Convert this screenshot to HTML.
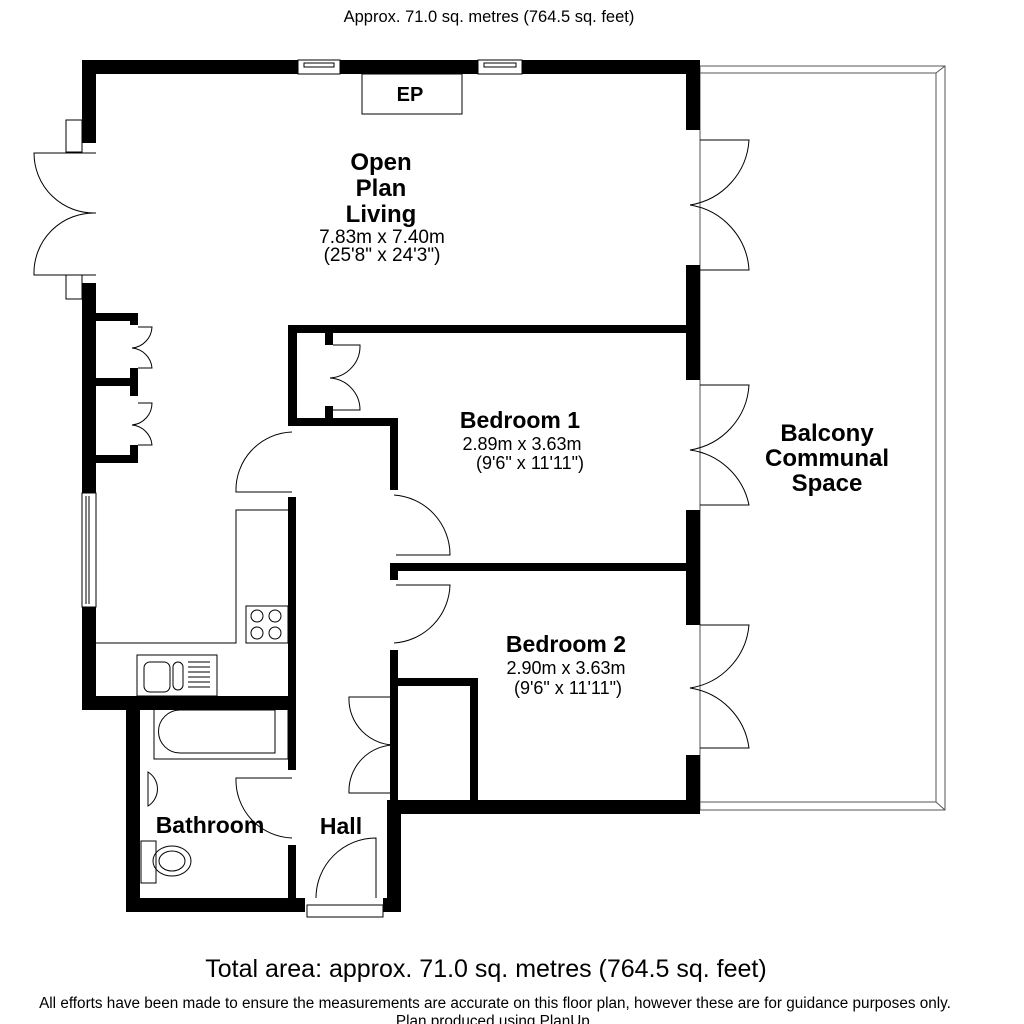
<!DOCTYPE html>
<html><head><meta charset="utf-8"><style>
html,body{margin:0;padding:0;background:#fff;}
svg{display:block;}
text{font-family:"Liberation Sans",Arial,sans-serif;fill:#000;}
</style></head><body>
<svg width="1024" height="1024" viewBox="0 0 1024 1024" xmlns="http://www.w3.org/2000/svg">
<rect width="1024" height="1024" fill="#fff"/>
<text x="489" y="22" font-size="16.5" text-anchor="middle">Approx. 71.0 sq. metres (764.5 sq. feet)</text>

<g fill="none" stroke="#555" stroke-width="1">
<rect x="700" y="66" width="245" height="744"/>
<polyline points="700,73 936,73 936,802 700,802"/>
<line x1="936" y1="73" x2="945" y2="66"/><line x1="936" y1="802" x2="945" y2="810"/>
</g>

<g fill="#000">
<rect x="82" y="60" width="216" height="14"/>
<rect x="340" y="60" width="138" height="14"/>
<rect x="522" y="60" width="178" height="14"/>
<rect x="82" y="60" width="14" height="83"/>
<rect x="82" y="283" width="14" height="210"/>
<rect x="82" y="607" width="14" height="103"/>
<rect x="82" y="696" width="208" height="14"/>
<rect x="126" y="696" width="14" height="216"/>
<rect x="126" y="898" width="179" height="14"/>
<rect x="383" y="898" width="18" height="14"/>
<rect x="387" y="800" width="14" height="112"/>
<rect x="387" y="800" width="313" height="14"/>
<rect x="686" y="60" width="14" height="70"/>
<rect x="686" y="265" width="14" height="115"/>
<rect x="686" y="510" width="14" height="115"/>
<rect x="686" y="755" width="14" height="59"/>
<rect x="288" y="325" width="412" height="8"/>
<rect x="288" y="325" width="9" height="100"/>
<rect x="288" y="418" width="110" height="8"/>
<rect x="390" y="418" width="8" height="72"/>
<rect x="325" y="333" width="8" height="12"/>
<rect x="325" y="406" width="8" height="12"/>
<rect x="390" y="563" width="310" height="8"/>
<rect x="390" y="563" width="8" height="17"/>
<rect x="390" y="650" width="8" height="150"/>
<rect x="398" y="678" width="80" height="8"/>
<rect x="470" y="678" width="8" height="122"/>
<rect x="288" y="497" width="8" height="273"/>
<rect x="288" y="845" width="8" height="53"/>
<rect x="96" y="313" width="42" height="8"/>
<rect x="130" y="313" width="8" height="12"/>
<rect x="96" y="378" width="42" height="8"/>
<rect x="130" y="368" width="8" height="28"/>
<rect x="96" y="455" width="42" height="8"/>
<rect x="130" y="445" width="8" height="18"/>
</g>

<g fill="none" stroke="#000" stroke-width="1">
<rect x="298" y="60" width="42" height="14"/><rect x="304" y="63" width="30" height="4"/>
<rect x="478" y="60" width="44" height="14"/><rect x="484" y="63" width="32" height="4"/>
<rect x="82" y="493" width="14" height="114"/><line x1="86" y1="496" x2="86" y2="604"/><line x1="89" y1="496" x2="89" y2="604"/>
<rect x="362" y="74" width="100" height="40"/>
<rect x="66" y="120" width="16" height="32"/><rect x="66" y="275" width="16" height="24"/>
<path d="M96,153 L34,153 A60,60 0 0 0 96,213 M96,275 L34,275 A60,60 0 0 1 96,213"/>
<path d="M700,140 L749,140 A70,70 0 0 1 690,205 M700,270 L749,270 A70,70 0 0 0 690,205"/>
<path d="M700,385 L749,385 A70,70 0 0 1 690,450 M700,505 L749,505 A70,70 0 0 0 690,450"/>
<path d="M700,625 L749,625 A70,70 0 0 1 690,688 M700,748 L749,748 A70,70 0 0 0 690,688"/>
<path d="M138,327 L152,327 A22,22 0 0 1 132,348 M138,368 L152,368 A22,22 0 0 0 132,348"/>
<path d="M138,403 L152,403 A22,22 0 0 1 132,425 M138,445 L152,445 A22,22 0 0 0 132,425"/>
<path d="M333,345 L360,345 A32,32 0 0 1 330,378 M333,410 L360,410 A32,32 0 0 0 330,378"/>
<path d="M292,432 A58,58 0 0 0 236,492 L292,492"/>
<path d="M394,495 A60,60 0 0 1 450,555 L396,555"/>
<path d="M396,585 L450,585 A60,60 0 0 1 394,643"/>
<path d="M390,697 L349,697 A46,46 0 0 0 396,745 M390,793 L349,793 A46,46 0 0 1 396,745"/>
<path d="M292,778 L236,778 A58,58 0 0 0 292,838"/>
<path d="M316,898 A60,60 0 0 1 376,838 L376,898"/>
<rect x="307" y="905" width="76" height="12"/>
<polyline points="96,643 236,643 236,510 288,510"/>
<rect x="246" y="606" width="42" height="37"/>
<circle cx="257" cy="616" r="6"/><circle cx="275" cy="616" r="6"/><circle cx="257" cy="633" r="6"/><circle cx="275" cy="633" r="6"/>
<rect x="137" y="655" width="80" height="41"/>
<rect x="144" y="662" width="26" height="30" rx="6"/><rect x="173" y="662" width="10" height="28" rx="5"/>
<path d="M188,662h22M188,667h22M188,672h22M188,677h22M188,682h22M188,687h22"/>
<rect x="154" y="705" width="134" height="54"/>
<path d="M275,710 L180,710 A21,21 0 0 0 180,753 L275,753 Z"/>
<path d="M148,772 A20,20 0 0 1 148,806 Z"/>
<rect x="141" y="841" width="15" height="42"/>
<ellipse cx="172" cy="861" rx="19" ry="15"/>
<ellipse cx="172" cy="861" rx="13" ry="10"/>
</g>

<text x="410" y="101" font-size="20" font-weight="bold" text-anchor="middle">EP</text>
<g text-anchor="middle">
<text x="381" y="170" font-size="24" font-weight="bold">Open</text>
<text x="381" y="196" font-size="24" font-weight="bold">Plan</text>
<text x="381" y="222" font-size="24" font-weight="bold">Living</text>
<text x="382" y="243" font-size="19">7.83m x 7.40m</text>
<text x="382" y="261" font-size="19">(25'8" x 24'3")</text>
<text x="520" y="428" font-size="23" font-weight="bold">Bedroom 1</text>
<text x="522" y="450" font-size="18">2.89m x 3.63m</text>
<text x="530" y="469" font-size="18">(9'6" x 11'11")</text>
<text x="566" y="652" font-size="23" font-weight="bold">Bedroom 2</text>
<text x="566" y="674" font-size="18">2.90m x 3.63m</text>
<text x="568" y="694" font-size="18">(9'6" x 11'11")</text>
<text x="827" y="441" font-size="24" font-weight="bold">Balcony</text>
<text x="827" y="466" font-size="24" font-weight="bold">Communal</text>
<text x="827" y="491" font-size="24" font-weight="bold">Space</text>
<text x="210" y="833" font-size="23" font-weight="bold">Bathroom</text>
<text x="341" y="834" font-size="23" font-weight="bold">Hall</text>
<text x="486" y="977" font-size="25">Total area: approx. 71.0 sq. metres (764.5 sq. feet)</text>
<text x="495" y="1008" font-size="15.3">All efforts have been made to ensure the measurements are accurate on this floor plan, however these are for guidance purposes only.</text>
<text x="495" y="1026" font-size="15.3">Plan produced using PlanUp.</text>
</g>
</svg>
</body></html>
